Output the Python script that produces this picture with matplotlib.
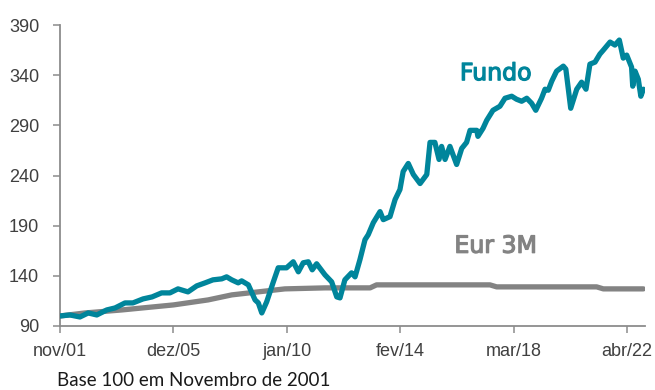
import matplotlib
matplotlib.use("Agg")
import matplotlib.pyplot as plt
import matplotlib.patheffects as pe

# months elapsed since Nov 2001 (base 100)
fund_month = [0.0, 4.3, 8.6, 12.2, 15.9, 20.2, 23.8, 28.1, 31.5, 35.9, 39.8, 43.9,
              47.5, 51.0, 55.3, 59.1, 62.7, 66.1, 69.9, 72.0, 74.2, 77.0, 78.5, 81.4,
              84.3, 85.7, 87.2, 89.3, 92.2, 94.3, 97.9, 100.8, 103.0, 105.1, 107.3,
              109.0, 110.9, 114.5, 117.4, 119.6, 121.0, 123.1, 126.0, 127.5, 129.6,
              131.8, 133.2, 135.4, 138.3, 139.7, 142.6, 144.8, 146.9, 148.3, 150.5,
              152.7, 155.6, 158.5, 159.9, 162.0, 163.8, 164.9, 166.4, 168.5, 171.4,
              173.6, 175.7, 177.2, 180.1, 180.6, 182.8, 184.4, 187.1, 190.1, 192.3,
              195.2, 197.3, 199.5, 201.7, 203.8, 205.6, 208.1, 209.6, 211.0, 212.5,
              214.6, 217.5, 218.6, 220.7, 223.3, 225.4, 227.3, 229.0, 231.2, 233.3,
              234.8, 237.7, 239.8, 241.7, 243.4, 244.9, 247.0, 247.5, 248.5, 249.9,
              251.0, 252.1]
fund_value = [100, 101, 99, 103, 101, 106, 108, 113, 113, 117, 119, 123,
              123, 127, 124, 130, 133, 136, 137, 139, 136, 133, 135, 131,
              116, 113, 103, 114, 134, 148, 148, 154, 144, 153, 154,
              146, 152, 141, 134, 119, 118, 136, 143, 139, 156,
              176, 181, 193, 204, 196, 199, 216, 226, 244, 252,
              241, 232, 241, 273, 273, 256, 269, 256, 269, 251,
              267, 273, 285, 285, 279, 287, 295, 305, 309, 317,
              319, 316, 314, 317, 312, 305, 317, 326, 325, 334,
              344, 349, 346, 307, 326, 333, 326, 351, 353, 361,
              365, 373, 370, 375, 357, 360, 348, 329, 344, 336,
              319, 326]

eur_month = [0.0, 10.8, 26.7, 49.0, 64.0, 74.2, 85.6, 97.2, 114.5, 134.0, 136.8,
             185.8, 188.7, 231.9, 234.8, 252.1]
eur_value = [100, 103, 106, 111, 116, 121, 124, 127, 128, 128, 131,
             131, 129, 129, 127, 127]

tick_month = [0, 49, 98, 147, 196, 245]
tick_label = ["nov/01", "dez/05", "jan/10", "fev/14", "mar/18", "abr/22"]
y_ticks = [90, 140, 190, 240, 290, 340, 390]

TEAL = "#00859b"
GREY = "#838383"
AXIS = "#8c8c8c"

fig = plt.figure(figsize=(6.55, 3.90), dpi=100)
ax = fig.add_axes([60 / 655, 1 - 326 / 390, 585 / 655, 301 / 390])

ax.plot(eur_month, eur_value, color=GREY, lw=3.8, solid_capstyle="round", zorder=2)
ax.plot(fund_month, fund_value, color=TEAL, lw=3.8, solid_capstyle="round",
        solid_joinstyle="round", zorder=3)

ax.set_xlim(0, 252.8)
ax.set_ylim(90, 390)
ax.set_xticks(tick_month)
ax.set_xticklabels(tick_label)
ax.set_yticks(y_ticks)

for side in ("top", "right"):
    ax.spines[side].set_visible(False)
for side in ("left", "bottom"):
    ax.spines[side].set_color(AXIS)
    ax.spines[side].set_linewidth(1.3)
    ax.spines[side].set_zorder(1)

ax.tick_params(axis="both", direction="out", length=5, width=1.1, color=AXIS,
               labelcolor="#404040", labelsize=13)
ax.tick_params(axis="y", pad=10)
ax.tick_params(axis="x", pad=7)
for lab in ax.get_xticklabels() + ax.get_yticklabels():
    lab.set_family("Liberation Sans")

# slightly heavier series labels
for txt, y, col in (("Fundo", 342, TEAL), ("Eur 3M", 170, GREY)):
    ax.text(188.3, y, txt, color=col, fontsize=17, family="DejaVu Sans",
            ha="center", va="center",
            path_effects=[pe.withStroke(linewidth=0.9, foreground=col)])

fig.text(57 / 655, 1 - 380 / 390, "Base 100 em Novembro de 2001", fontsize=13.5,
         family="Lato", color="#1a1a1a", ha="left", va="center")

fig.savefig("out.png", dpi=100)
